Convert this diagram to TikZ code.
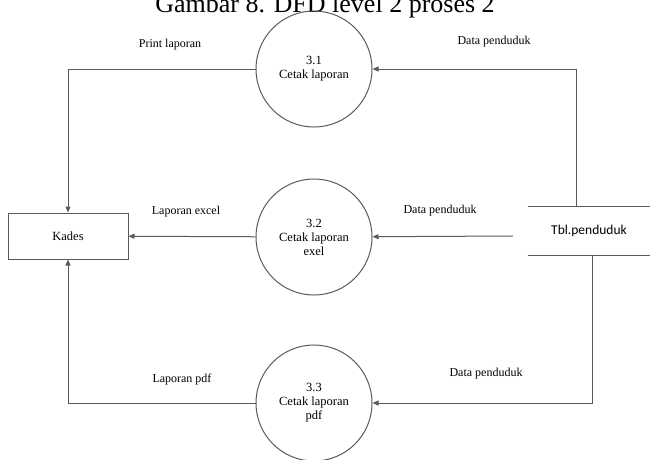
\documentclass[tikz,border=0pt]{standalone}
\usepackage{fontspec}
\setmainfont{Liberation Serif}
\newfontfamily\tblfont{Carlito}
\usetikzlibrary{arrows.meta}

\begin{document}
\begin{tikzpicture}[x=1pt,y=-1pt,
  line/.style={draw=black!65, line width=1pt},
  flow/.style={line, -{Triangle[length=6pt,width=5pt]}},
  process/.style={circle, line, minimum size=116pt, inner sep=0pt, align=center,
    font=\fontsize{12.5}{14}\selectfont},
  entity/.style={rectangle, line, minimum width=120pt, minimum height=46pt,
    font=\fontsize{12.5}{14}\selectfont},
  label/.style={font=\fontsize{12}{14}\selectfont}]
  \useasboundingbox (0,0) rectangle (650,459);

  % heading
  \node[font=\fontsize{26}{28}\selectfont, anchor=base] (title) at (325,12) {Gambar 8. DFD level 2 proses 2};

  % external entity
  \node[entity] (kades) at (68,236) {Kades};

  % processes
  \node[process] (p31) at (314,69) {3.1\\Cetak laporan};
  \node[process] (p32) at (314,237) {3.2\\Cetak laporan\\exel};
  \node[process] (p33) at (314,403) {3.3\\Cetak laporan\\pdf};

  % data store
  \node[minimum width=122pt, minimum height=48pt, font=\tblfont\fontsize{13.5}{15}\selectfont] (tbl) at (589,231) {Tbl.penduduk};
  \draw[line] (tbl.north west) -- (tbl.north east);
  \draw[line] (tbl.south west) -- (tbl.south east);
  \coordinate (t1) at (576,207);
  \coordinate (t2) at (513,236);
  \coordinate (t3) at (592,255);

  % data flows
  \draw[flow] (t1) |- (p31);
  \draw[flow] (p31) -| (kades);
  \draw[flow] (t2) -- (p32);
  \draw[flow] (p32) -- (kades);
  \draw[flow] (t3) |- (p33);
  \draw[flow] (p33) -| (kades);

  % flow labels
  \node[label] (l1) at (170,45) {Print laporan};
  \node[label] (l2) at (494,42) {Data penduduk};
  \node[label] (l3) at (186,212) {Laporan excel};
  \node[label] (l4) at (440,211) {Data penduduk};
  \node[label] (l5) at (182,380) {Laporan pdf};
  \node[label] (l6) at (486,374) {Data penduduk};
\end{tikzpicture}
\end{document}
